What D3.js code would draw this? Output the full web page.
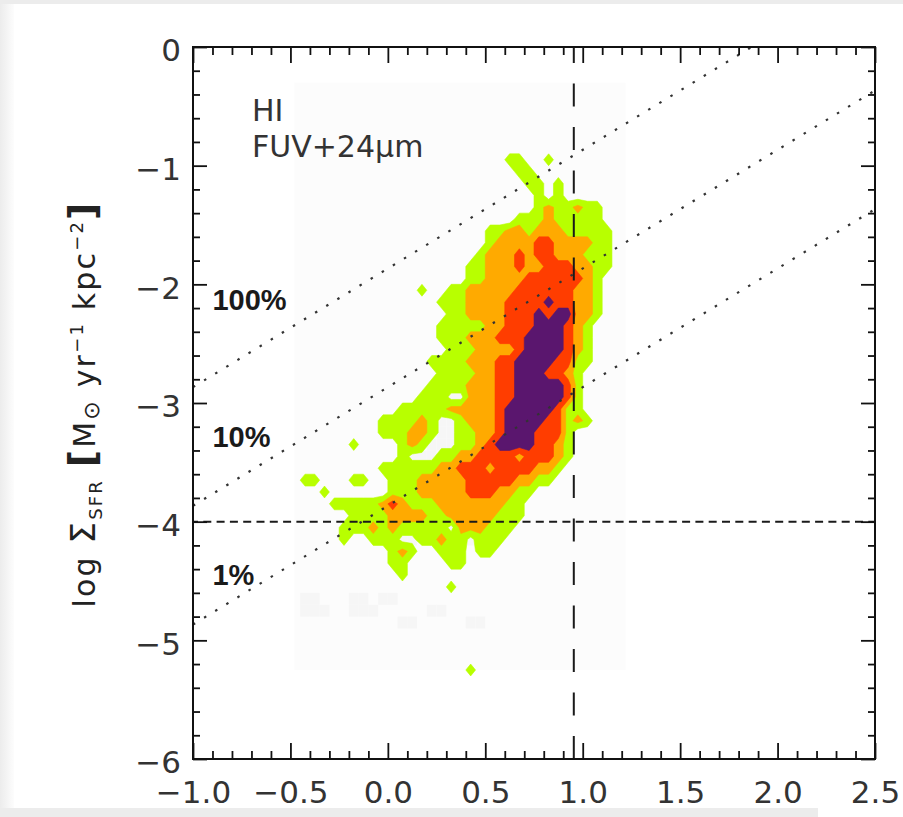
<!DOCTYPE html>
<html>
<head>
<meta charset="utf-8">
<script src="https://cdn.jsdelivr.net/npm/d3@7"></script>
<style>
  html, body { margin: 0; padding: 0; background: #ececec; }
  svg { display: block; }
</style>
</head>
<body>
<div id="chart"></div>
<script>
// axis ticks
const xTicks = [-1.0, -0.5, 0.0, 0.5, 1.0, 1.5, 2.0, 2.5]
const yTicks = [0, -1, -2, -3, -4, -5, -6]

// star formation efficiency lines (fraction of gas consumed in 1e8 yr)
const efficiencies = [1, 0.1, 0.01]
const effLabels = ['100%', '10%', '1%']
const effLabelY = [-2.22, -3.37, -4.53]
const heliumFactor = 1.36

// reference lines
const hiSaturation = Math.log10(9)
const sfrThreshold = -4

// density levels: 0 empty, 1 faint, 2 lime, 3 orange, 4 red, 5 purple
const codeValue = [0, 0.5, 2, 3, 4, 5]
const levelThresholds = [1, 2.5, 3.5, 4.5]
const levelColors = ['#b8ff00', '#ffaa00', '#ff3c00', '#5a176e']

// histogram grid (log Σ_HI on x, log Σ_SFR on y)
const gridX0 = -0.6, gridDX = 0.05
const gridY0 = -0.7, gridDY = 0.1
const histExtentX = [-0.48, 1.22]
const histExtentY = [-5.25, -0.3]
const densityRows = [
  "0000000000 0000000000 0000000000 0000000000",
  "0000000000 0000000000 0000000000 0000000000",
  "0000000000 0000000000 0000220020 0000000000",
  "0000000000 0000000000 0000022000 0000000000",
  "0000000000 0000000000 0000002202 0000000000",
  "0000000000 0000000000 0000000202 0000000000",
  "0000000000 0000000000 0000000232 2322000000",
  "0000000000 0000000000 0000022232 2222000000",
  "0000000000 0000000000 0022332333 2222200000",
  "0000000000 0000000000 0023333443 3332200000",
  "0000000000 0000000000 0233343443 3322200000",
  "0000000000 0000000000 2233343344 4332200000",
  "0000000000 0000000000 2233334444 4432000000",
  "0000000000 0000020022 3333344444 4332000000",
  "0000000000 0000000222 3333444454 4332000000",
  "0000000000 0000000022 3333444545 5332000000",
  "0000000000 0000000222 2233444555 4320000000",
  "0000000000 0000000222 3334445555 4320000000",
  "0000000000 0000000022 2333345555 4320000000",
  "0000000000 0000002222 3334455554 4220000000",
  "0000000000 0000000222 2334455544 3200000000",
  "0000000000 0000002222 3334455555 4200000000",
  "0000000000 0000022211 3334455555 4200000000",
  "0000000000 0002222233 3334555554 2200000000",
  "0000000000 0222232112 3334555544 2320000000",
  "0000000000 0222332112 2334555444 2000000000",
  "0000000020 0002321112 2345555443 2000000000",
  "0000000000 0002111223 3444434443 2000000000",
  "0000000000 0222222334 4434444332 0000000000",
  "0002200022 0022233333 4444433220 0000000000",
  "0000020000 0022233333 4443322000 0000000000",
  "0000002222 2343222333 3333220000 0000000000",
  "0000000022 2233332233 3332220000 0000000000",
  "0000000222 3232222213 3322200000 0000000000",
  "0000000200 2221122322 1222000000 0000000000",
  "0000000000 0023200222 0220000000 0000000000",
  "0000000000 0022000022 0000000000 0000000000",
  "0000000000 0002000000 0000000000 0000000000",
  "0000000000 0000000020 0000000000 0000000000",
  "0001100011 0110000000 0000000000 0000000000",
  "0001110011 1000001100 0000000000 0000000000",
  "0000000000 0001100000 1100000000 0000000000",
  "0000000000 0000000000 0000000000 0000000000",
  "0000000000 0000000000 0000000000 0000000000",
  "0000000000 0000000000 0000000000 0000000000",
  "0000000000 0000000000 2000000000 0000000000",
  "0000000000 0000000000 0000000000 0000000000"
]

const width = 903
const height = 817
const plotLeft = 193, plotRight = 875, plotTop = 47, plotBottom = 759

const svg = d3.select('#chart')
  .append('svg')
  .attr('width', width)
  .attr('height', height)
  .attr('viewBox', [0, 0, width, height])

// page card
const defs = svg.append('defs')
const shade = defs.append('linearGradient').attr('id', 'shade')
shade.append('stop').attr('offset', '0%').attr('stop-color', '#ececec')
shade.append('stop').attr('offset', '100%').attr('stop-color', '#ffffff')
svg.append('rect').attr('width', width).attr('height', height).attr('fill', '#ececec')
svg.append('rect').attr('x', 0).attr('y', 4).attr('width', 16).attr('height', 804).attr('fill', 'url(#shade)')
svg.append('rect').attr('x', 14).attr('y', 4).attr('width', width - 14).attr('height', 804).attr('fill', '#fff')
svg.append('rect').attr('x', 818).attr('y', 808).attr('width', 85).attr('height', 9).attr('fill', '#fff')

const x = d3.scaleLinear().domain([-1, 2.5]).range([plotLeft, plotRight])
const y = d3.scaleLinear().domain([-6, 0]).range([plotBottom, plotTop])

defs.append('clipPath').attr('id', 'plot-clip')
  .append('rect')
  .attr('x', plotLeft).attr('y', plotTop)
  .attr('width', plotRight - plotLeft).attr('height', plotBottom - plotTop)

// slight softening, the original is a resampled raster
defs.append('filter').attr('id', 'soft')
  .append('feGaussianBlur').attr('stdDeviation', 0.6)

const plot = svg.append('g').attr('clip-path', 'url(#plot-clip)')

// faint histogram background
plot.append('rect')
  .attr('x', x(histExtentX[0]))
  .attr('y', y(histExtentY[1]))
  .attr('width', x(histExtentX[1]) - x(histExtentX[0]))
  .attr('height', y(histExtentY[0]) - y(histExtentY[1]))
  .attr('fill', '#fcfcfc')

const grid = densityRows.map(r => r.replace(/ /g, '').split('').map(Number))
const nx = grid[0].length
const ny = grid.length
const values = grid.flat().map(c => codeValue[c])

// faint low-count cells
const faint = []
grid.forEach((row, j) => row.forEach((c, i) => { if (c === 1) faint.push([i, j]) }))
plot.selectAll('.faint')
  .data(faint)
  .join('rect')
  .attr('class', 'faint')
  .attr('x', d => x(gridX0 + d[0] * gridDX))
  .attr('y', d => y(gridY0 - d[1] * gridDY))
  .attr('width', x(gridDX) - x(0))
  .attr('height', y(0) - y(gridDY))
  .attr('fill', '#f6f6f6')

// filled density contours
const contours = d3.contours()
  .size([nx, ny])
  .thresholds(levelThresholds)(values)

const project = d3.geoTransform({
  point(gx, gy) {
    this.stream.point(x(gridX0 + gx * gridDX), y(gridY0 - gy * gridDY))
  }
})

plot.append('g')
  .attr('filter', 'url(#soft)')
  .selectAll('.level')
  .data(contours)
  .join('path')
  .attr('class', 'level')
  .attr('d', d3.geoPath(project))
  .attr('fill', (d, i) => levelColors[i])
  .attr('stroke', (d, i) => levelColors[i])
  .attr('stroke-width', 0.6)

// efficiency lines
const effLine = eff => {
  const off = Math.log10(eff * heliumFactor) - 2
  return [[-1, -1 + off], [2.5, 2.5 + off]]
}
plot.selectAll('.eff')
  .data(efficiencies)
  .join('line')
  .attr('class', 'eff')
  .attr('x1', d => x(effLine(d)[0][0]))
  .attr('y1', d => y(effLine(d)[0][1]))
  .attr('x2', d => x(effLine(d)[1][0]))
  .attr('y2', d => y(effLine(d)[1][1]))
  .attr('stroke', '#333')
  .attr('stroke-width', 2.2)
  .attr('stroke-dasharray', '2.5 10.5')

// threshold and saturation lines
plot.append('line')
  .attr('x1', x(-1)).attr('x2', x(2.5))
  .attr('y1', y(sfrThreshold)).attr('y2', y(sfrThreshold))
  .attr('stroke', '#1a1a1a')
  .attr('stroke-width', 2)
  .attr('stroke-dasharray', '8 5.3')
  .attr('stroke-dashoffset', 3)

plot.append('line')
  .attr('x1', x(hiSaturation)).attr('x2', x(hiSaturation))
  .attr('y1', y(-6)).attr('y2', y(0))
  .attr('stroke', '#1a1a1a')
  .attr('stroke-width', 2)
  .attr('stroke-dasharray', '23 20.5')

// axes
const xMinor = d3.range(-10, 26).map(d => d / 10).filter(d => !xTicks.includes(d))
const yMinor = d3.range(-30, 1).map(d => d / 5).filter(d => !yTicks.includes(d))

const styleAxis = g => {
  g.select('.domain').remove()
  g.selectAll('line').attr('stroke', '#111').attr('stroke-width', 1.8)
  g.selectAll('text')
    .attr('fill', '#333')
    .style('font-family', '"DejaVu Sans", sans-serif')
    .style('font-size', '31px')
}

svg.append('g')
  .attr('transform', `translate(0,${plotBottom})`)
  .call(d3.axisBottom(x).tickValues(xTicks).tickSize(-16).tickSizeOuter(0)
    .tickPadding(22).tickFormat(d3.format('.1f')))
  .call(styleAxis)
svg.append('g')
  .attr('transform', `translate(0,${plotBottom})`)
  .call(d3.axisBottom(x).tickValues(xMinor).tickSize(-8).tickSizeOuter(0).tickFormat(''))
  .call(styleAxis)
svg.append('g')
  .attr('transform', `translate(0,${plotTop})`)
  .call(d3.axisTop(x).tickValues(xTicks).tickSize(-16).tickSizeOuter(0).tickFormat(''))
  .call(styleAxis)
svg.append('g')
  .attr('transform', `translate(0,${plotTop})`)
  .call(d3.axisTop(x).tickValues(xMinor).tickSize(-8).tickSizeOuter(0).tickFormat(''))
  .call(styleAxis)

svg.append('g')
  .attr('transform', `translate(${plotLeft},0)`)
  .call(d3.axisLeft(y).tickValues(yTicks).tickSize(-14).tickSizeOuter(0)
    .tickPadding(12).tickFormat(d3.format('d')))
  .call(styleAxis)
  .call(g => g.selectAll('text').attr('dy', '0.45em'))
svg.append('g')
  .attr('transform', `translate(${plotLeft},0)`)
  .call(d3.axisLeft(y).tickValues(yMinor).tickSize(-7).tickSizeOuter(0).tickFormat(''))
  .call(styleAxis)
svg.append('g')
  .attr('transform', `translate(${plotRight},0)`)
  .call(d3.axisRight(y).tickValues(yTicks).tickSize(-14).tickSizeOuter(0).tickFormat(''))
  .call(styleAxis)
svg.append('g')
  .attr('transform', `translate(${plotRight},0)`)
  .call(d3.axisRight(y).tickValues(yMinor).tickSize(-7).tickSizeOuter(0).tickFormat(''))
  .call(styleAxis)

svg.append('rect')
  .attr('x', plotLeft).attr('y', plotTop)
  .attr('width', plotRight - plotLeft).attr('height', plotBottom - plotTop)
  .attr('fill', 'none')
  .attr('stroke', '#111')
  .attr('stroke-width', 2)

// efficiency labels
svg.selectAll('.eff-label')
  .data(effLabels)
  .join('text')
  .attr('class', 'eff-label')
  .attr('x', x(-0.9))
  .attr('y', (d, i) => y(effLabelY[i]))
  .style('font-family', '"Liberation Sans", Arial, sans-serif')
  .style('font-weight', 'bold')
  .style('font-size', '29px')
  .attr('fill', '#1a1a1a')
  .text(d => d)

// dataset labels
const note = svg.append('text')
  .style('font-family', '"DejaVu Sans", sans-serif')
  .style('font-size', '30px')
  .attr('fill', '#333')
note.append('tspan').attr('x', 252).attr('y', 121).text('HI')
note.append('tspan').attr('x', 252).attr('y', 157).text('FUV+24μm')

// y-axis title
const title = svg.append('text')
  .attr('transform', 'translate(95,405) rotate(-90)')
  .attr('text-anchor', 'middle')
  .attr('textLength', 405)
  .attr('lengthAdjust', 'spacing')
  .style('font-family', '"DejaVu Sans", sans-serif')
  .style('font-size', '30px')
  .attr('fill', '#222')
title.append('tspan').text('log ')
title.append('tspan').style('font-size', '34px').text('Σ')
title.append('tspan').attr('dy', 7).style('font-size', '18px').text('SFR')
title.append('tspan').attr('dy', -7).text(' ')
title.append('tspan').style('font-size', '38px').style('font-weight', 'bold').text('[')
title.append('tspan').text('M')
title.append('tspan').attr('dy', 4).style('font-size', '22px').text('⊙')
title.append('tspan').attr('dy', -4).text(' yr')
title.append('tspan').attr('dy', -12).style('font-size', '18px').text('−1')
title.append('tspan').attr('dy', 12).text(' kpc')
title.append('tspan').attr('dy', -12).style('font-size', '18px').text('−2')
title.append('tspan').attr('dy', 12).style('font-size', '38px').style('font-weight', 'bold').text(']')
</script>
</body>
</html>
